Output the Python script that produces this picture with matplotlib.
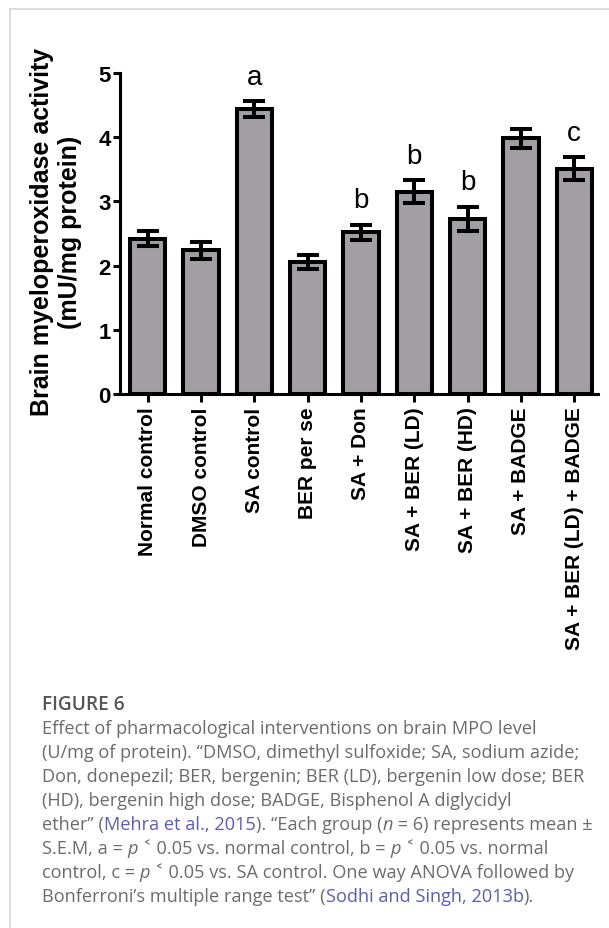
import matplotlib
matplotlib.use("Agg")
import matplotlib.pyplot as plt
import numpy as np
from matplotlib.lines import Line2D

groups = ["Normal control", "DMSO control", "SA control", "BER per se", "SA + Don",
          "SA + BER (LD)", "SA + BER (HD)", "SA + BADGE", "SA + BER (LD) + BADGE"]
mpo_mean = [2.42, 2.24, 4.44, 2.05, 2.52, 3.15, 2.73, 3.98, 3.51]
mpo_sem = [0.12, 0.13, 0.12, 0.11, 0.12, 0.18, 0.19, 0.15, 0.18]
sig_letters = ["", "", "a", "", "b", "b", "b", "", "c"]
yticks = [0, 1, 2, 3, 4, 5]

W, H = 609, 929
fig = plt.figure(figsize=(W / 100, H / 100), dpi=100)

# light page frame (top and left edge)
frame_kw = dict(color="#dadada", lw=1.3, transform=fig.transFigure)
fig.add_artist(Line2D([10 / W, 1], [1 - 9.5 / H, 1 - 9.5 / H], **frame_kw))
fig.add_artist(Line2D([10 / W, 10 / W], [0, 1 - 9.5 / H], **frame_kw))

ax = fig.add_axes([120 / W, 1 - 395 / H, 478 / W, (395 - 74) / H])
x = np.arange(len(groups))
ax.bar(x, mpo_mean, width=0.66, color="#a39ea4", edgecolor="black", linewidth=2.9, zorder=2)
ax.errorbar(x, mpo_mean, yerr=mpo_sem, fmt="none", ecolor="black", elinewidth=2.9,
            capsize=8, capthick=2.9, zorder=3)

for xi, m, s, lab in zip(x, mpo_mean, mpo_sem, sig_letters):
    if lab:
        ax.text(xi, m + s + 0.27, lab, ha="center", va="baseline", fontsize=20,
                family="Liberation Sans", clip_on=False)

ax.set_xlim(-0.52, len(groups) - 1 + 0.445)
ax.set_ylim(0, 5)
ax.set_yticks(yticks)
ax.set_yticklabels([str(t) for t in yticks], fontsize=16, fontweight="bold", family="Liberation Sans")
ax.set_xticks(x)
ax.set_xticklabels(groups, rotation=90, fontsize=15, fontweight="bold", family="Liberation Sans")
for sp in ["top", "right"]:
    ax.spines[sp].set_visible(False)
for sp in ["left", "bottom"]:
    ax.spines[sp].set_linewidth(2.2)
    ax.spines[sp].set_zorder(4)
ax.tick_params(axis="y", length=5, width=2.2, pad=1.5)
ax.tick_params(axis="x", length=6, width=2.2, pad=3)

fig.text(56 / W, 1 - 232 / H, "Brain myeloperoxidase activity\n(mU/mg protein)",
         rotation=90, ha="center", va="center", multialignment="center",
         fontsize=18, fontweight="bold", family="Liberation Sans", linespacing=1.2)

# caption with mixed styles, laid out run by run
renderer = fig.canvas.get_renderer()
cap_font = ["Open Sans", "DejaVu Sans"]
cap_size = 13.1
grey = "#6b6b6b"
link = "#5b5bb8"


def run_width(s, **kw):
    t = fig.text(0, 0, "|" + s + "|", **kw)
    w1 = t.get_window_extent(renderer).width
    t.remove()
    t = fig.text(0, 0, "||", **kw)
    w2 = t.get_window_extent(renderer).width
    t.remove()
    return w1 - w2


def draw_line(y_px, runs):
    xp = 42
    for s, style in runs:
        kw = dict(fontsize=cap_size, family=cap_font, color=grey)
        if style == "i":
            kw["style"] = "italic"
        elif style == "link":
            kw["color"] = link
        fig.text(xp / W, 1 - y_px / H, s, va="center", ha="left", **kw)
        xp += run_width(s, **kw) * 100 / fig.dpi


fig.text(42 / W, 1 - 705 / H, "FIGURE 6", fontsize=13.8, fontweight="semibold",
         family=cap_font, color="#555555", va="center", ha="left")

caption = [
    [("Effect of pharmacological interventions on brain MPO level", "")],
    [("(U/mg of protein). \u201cDMSO, dimethyl sulfoxide; SA, sodium azide;", "")],
    [("Don, donepezil; BER, bergenin; BER (LD), bergenin low dose; BER", "")],
    [("(HD), bergenin high dose; BADGE, Bisphenol A diglycidyl", "")],
    [("ether\u201d (", ""), ("Mehra et al., 2015", "link"), ("). \u201cEach group (", ""),
     ("n", "i"), (" = 6) represents mean \u00b1", "")],
    [("S.E.M, a = ", ""), ("p", "i"), (" \u02c2 0.05 vs. normal control, b = ", ""),
     ("p", "i"), (" \u02c2 0.05 vs. normal", "")],
    [("control, c = ", ""), ("p", "i"), (" \u02c2 0.05 vs. SA control. One way ANOVA followed by", "")],
    [("Bonferroni\u2019s multiple range test\u201d (", ""), ("Sodhi and Singh, 2013b", "link"), (").", "")],
]
for k, runs in enumerate(caption):
    draw_line(729 + 24 * k, runs)

fig.savefig("out.png", dpi=100)
